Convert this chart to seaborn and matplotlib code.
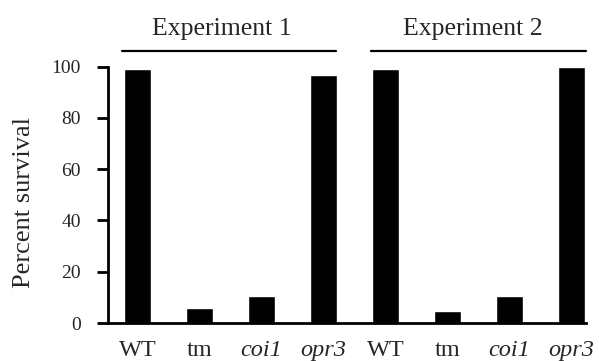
import matplotlib
matplotlib.use("Agg")
import matplotlib.pyplot as plt
import seaborn as sns
import pandas as pd

# ---- data ----
genotypes = ["WT", "tm", "coi1", "opr3"]
italic_genotypes = ["coi1", "opr3"]
experiments = ["Experiment 1", "Experiment 2"]
exp1_survival = [99, 6, 10.5, 96.5]
exp2_survival = [99, 4.5, 10.5, 100]
y_ticks = [0, 20, 40, 60, 80, 100]
y_label = "Percent survival"

ids = [f"{g}_{i+1}" for i in range(2) for g in genotypes]
labels = genotypes + genotypes
values = exp1_survival + exp2_survival
df = pd.DataFrame({"id": ids, "label": labels, "survival": values})

sns.set_theme(style="white")
plt.rcParams["font.family"] = ["Liberation Serif", "DejaVu Serif"]

fig = plt.figure(figsize=(5.99, 3.61), dpi=100)
ax = fig.add_axes([108 / 599, (361 - 323) / 361, 478 / 599, 256.5 / 361])

sns.barplot(data=df, x="id", y="survival", order=ids, color="black",
            width=0.42, saturation=1, ax=ax)

ax.set_xlim(-0.476, 7.234)
ax.set_ylim(0, 100)
ax.set_yticks(y_ticks)
ax.set_yticklabels([str(t) for t in y_ticks], fontsize=14)

ax.set_xticks(range(len(ids)))
ax.set_xticklabels(labels, fontsize=17.5)
for t, lab in zip(ax.get_xticklabels(), labels):
    if lab in italic_genotypes:
        t.set_style("italic")

ax.tick_params(axis="x", length=0, pad=12)
ax.tick_params(axis="y", length=8, width=2.0, pad=11.5, color="black", left=True, direction="out")

ax.set_xlabel("")
ax.set_ylabel(y_label, fontsize=19)
ax.yaxis.set_label_coords(-0.152, 0.468)

for side in ["top", "right"]:
    ax.spines[side].set_visible(False)
for side in ["left", "bottom"]:
    ax.spines[side].set_color("black")
    ax.spines[side].set_linewidth(2.0)

# experiment brackets
bracket_spans = [(-0.25, 3.2), (3.77, 7.23)]
text_x = [1.36, 5.41]
for (x0, x1), tx, name in zip(bracket_spans, text_x, experiments):
    ax.plot([x0, x1], [106, 106], color="black", lw=1.6, clip_on=False)
    ax.text(tx, 112.3, name, ha="center", va="baseline", fontsize=18.5, clip_on=False)

fig.savefig("out.png", dpi=100)
